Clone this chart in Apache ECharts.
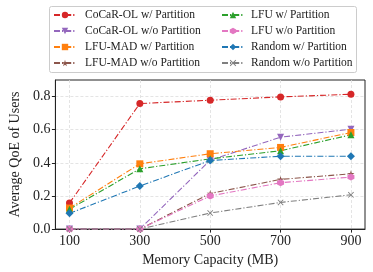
<!DOCTYPE html>
<html><head><meta charset="utf-8">
<script src="https://cdn.jsdelivr.net/npm/echarts@6/dist/echarts.min.js"></script>
<style>html,body{margin:0;padding:0;background:#fff}#c{width:373px;height:272px}</style>
</head><body><div id="c"></div>
<script>
const memory = [100, 300, 500, 700, 900];
const xTicks = [100, 300, 500, 700, 900];
const yTicks = [0, 0.2, 0.4, 0.6, 0.8];
const cocarW = [0.157, 0.758, 0.778, 0.798, 0.814];
const cocarWo = [0.0, 0.0, 0.416, 0.555, 0.603];
const lfumadW = [0.127, 0.394, 0.455, 0.493, 0.583];
const lfumadWo = [0.0, 0.0, 0.215, 0.300, 0.334];
const lfuW = [0.120, 0.364, 0.424, 0.473, 0.569];
const lfuWo = [0.0, 0.0, 0.200, 0.280, 0.314];
const randomW = [0.095, 0.260, 0.414, 0.440, 0.440];
const randomWo = [0.0, 0.0, 0.097, 0.161, 0.207];

const FONT = '"Liberation Serif","DejaVu Serif",serif';
const star = 'path://M50,0 L61,35 L98,35 L68,57 L79,91 L50,70 L21,91 L32,57 L2,35 L39,35 Z';
const hexagon = 'path://M50,0 L93,25 L93,75 L50,100 L7,75 L7,25 Z';
const xmark = 'path://M10,0 L50,40 L90,0 L100,10 L60,50 L100,90 L90,100 L50,60 L10,100 L0,90 L40,50 L0,10 Z';
const triDown = 'path://M0,0 L100,0 L50,87 Z';

const defs = [
  {name:'CoCaR-OL w/ Partition', data:cocarW, color:'#d62728', symbol:'circle', size:7},
  {name:'CoCaR-OL w/o Partition', data:cocarWo, color:'#9467bd', symbol:triDown, size:7},
  {name:'LFU-MAD w/ Partition', data:lfumadW, color:'#ff7f0e', symbol:'rect', size:7},
  {name:'LFU-MAD w/o Partition', data:lfumadWo, color:'#8c564b', symbol:star, size:7},
  {name:'LFU w/ Partition', data:lfuW, color:'#2ca02c', symbol:'triangle', size:7},
  {name:'LFU w/o Partition', data:lfuWo, color:'#e377c2', symbol:hexagon, size:7},
  {name:'Random w/ Partition', data:randomW, color:'#1f77b4', symbol:'diamond', size:8},
  {name:'Random w/o Partition', data:randomWo, color:'#7f7f7f', symbol:xmark, size:6}
];

const series = defs.map(d => ({
  name: d.name, type: 'line',
  data: memory.map((m, i) => [m, d.data[i]]),
  symbol: d.symbol, symbolSize: d.size,
  color: d.color,
  itemStyle: {color: d.color},
  lineStyle: {color: d.color, width: 1.1, type: [6, 2, 1.2, 2]},
  animation: false
}));

const legendText = {fontFamily: FONT, fontSize: 11.5, color: '#222', lineHeight: 16};
const chart = echarts.init(document.getElementById('c'));
chart.setOption({
  animation: false,
  grid: {left: 46, right: 8, top: 80, bottom: 42, show: true, borderColor: '#222', borderWidth: 1, backgroundColor: 'transparent'},
  xAxis: {
    type: 'value', min: 60, max: 940,
    name: 'Memory Capacity (MB)', nameLocation: 'middle', nameGap: 22,
    nameTextStyle: {fontFamily: FONT, fontSize: 14, color: '#222'},
    axisLine: {show: true, lineStyle: {color: '#222', width: 1}},
    axisTick: {show: true, length: 3.5, inside: false, customValues: xTicks, lineStyle: {color: '#222'}},
    axisLabel: {customValues: xTicks, fontFamily: FONT, fontSize: 14, color: '#222', margin: 5},
    splitLine: {show: true, customValues: xTicks, lineStyle: {color: '#ddd', type: [3, 2], width: 0.8}}
  },
  yAxis: {
    type: 'value', min: 0, max: 0.9, interval: 0.2,
    name: 'Average QoE of Users', nameLocation: 'middle', nameGap: 31,
    nameTextStyle: {fontFamily: FONT, fontSize: 14, color: '#222'},
    axisLine: {show: true, lineStyle: {color: '#222', width: 1}},
    axisTick: {show: true, length: 3.5, customValues: yTicks, lineStyle: {color: '#222'}},
    axisLabel: {customValues: yTicks, fontFamily: FONT, fontSize: 14, color: '#222', margin: 5,
      formatter: v => v.toFixed(1)},
    splitLine: {show: true, lineStyle: {color: '#ddd', type: [3, 2], width: 0.8}}
  },
  graphic: [{type: 'rect', shape: {x: 49.5, y: 6.5, width: 307, height: 66, r: 2},
    style: {fill: '#fff', stroke: '#ccc', lineWidth: 1}, z: -1}],
  legend: [
    {data: defs.slice(0, 4).map(d => d.name), left: 53, top: 7, orient: 'vertical', itemWidth: 22, itemHeight: 8, itemGap: 0,
      textStyle: Object.assign({padding: [0, 0, 0, 4]}, legendText), padding: 0},
    {data: defs.slice(4).map(d => d.name), left: 221, top: 7, orient: 'vertical', itemWidth: 22, itemHeight: 8, itemGap: 0,
      textStyle: Object.assign({padding: [0, 0, 0, 2]}, legendText), padding: 0}
  ],
  series: series
});
</script></body></html>
